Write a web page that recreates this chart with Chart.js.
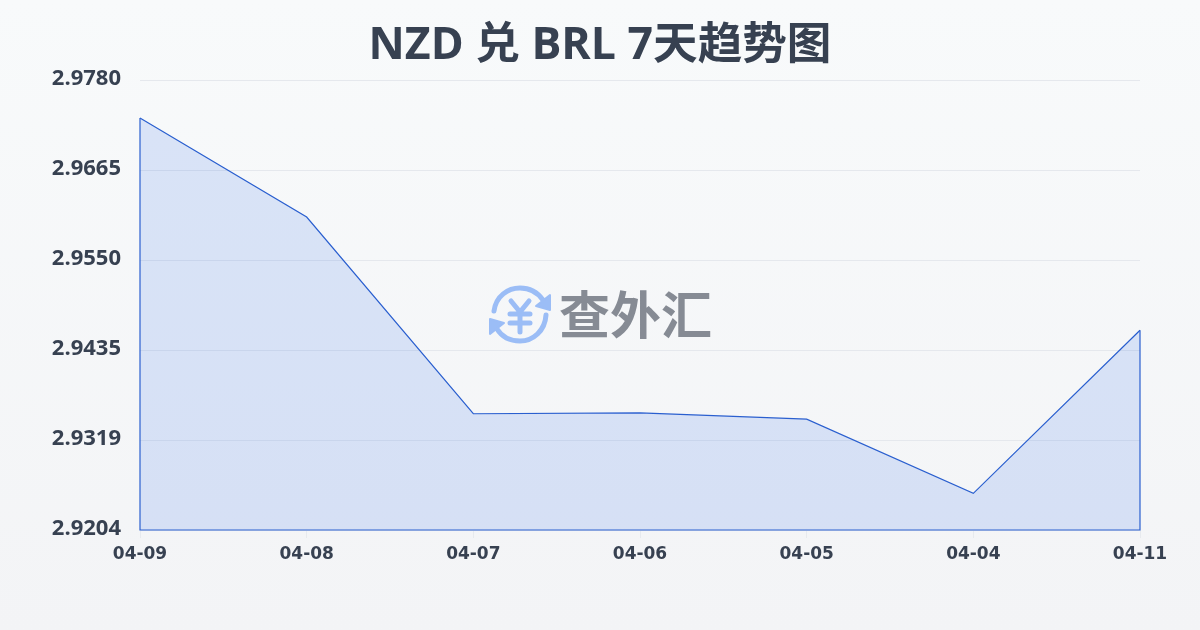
<!DOCTYPE html>
<html>
<head>
<meta charset="utf-8">
<script src="https://cdn.jsdelivr.net/npm/chart.js@4"></script>
<style>
html, body { margin: 0; padding: 0; width: 1200px; height: 630px; overflow: hidden; }
body { background: linear-gradient(180deg, #f8fafb 0%, #f3f4f6 100%); position: relative; }
#wrap { position: absolute; left: 0; top: 0; width: 1200px; height: 630px; }
#mark { position: absolute; left: 488px; top: 284px; }
#markText { position: absolute; left: 559px; top: 276px; font: 700 51px/72px "Noto Sans CJK SC", sans-serif; color: #868b94; white-space: nowrap; }
</style>
</head>
<body>
<div id="wrap"><canvas id="rateChart" width="1200" height="630"></canvas></div>
<svg id="mark" width="64" height="62" viewBox="0 0 64 62" fill="none" stroke="#9bbdf6" stroke-width="5" stroke-linecap="round" stroke-linejoin="round">
  <path d="M6 27 C8 12 20 4 32 4 C42 4 50 9 55 16"/>
  <path d="M58 31 C57 47 45 57 32 57 C22 57 14 53 9 45"/>
  <path d="M62 11 L62 26 L48 22 Z" fill="#9bbdf6" stroke-width="2"/>
  <path d="M2 50 L2 35 L16 39 Z" fill="#9bbdf6" stroke-width="2"/>
  <path d="M23 17 L32 28 L41 17 M22 30 L42 30 M22 39 L42 39 M32 28 L32 48"/>
</svg>
<div id="markText">查外汇</div>
<script>
const dates = ['04-09', '04-08', '04-07', '04-06', '04-05', '04-04', '04-11'];
const rates = [2.9732, 2.9605, 2.9353, 2.9354, 2.9346, 2.9251, 2.9460];
const yTickLabels = ['2.9204', '2.9319', '2.9435', '2.9550', '2.9665', '2.9780'];
const yMin = 2.9204;
const yMax = 2.9780;

const textColor = '#374151';
const lineColor = '#2a5fcf';
const titleFont = '"Open Sans", "Noto Sans CJK SC", sans-serif';

// 面积图的左右两边和底边也有描边
const outlinePlugin = {
    id: 'outline',
    afterDatasetsDraw(chart) {
        const ctx = chart.ctx;
        const x = chart.scales.x;
        const y = chart.scales.y;
        const last = dates.length - 1;
        ctx.save();
        ctx.strokeStyle = lineColor;
        ctx.lineWidth = 1.2;
        ctx.beginPath();
        ctx.moveTo(x.getPixelForValue(0), y.getPixelForValue(rates[0]));
        ctx.lineTo(x.getPixelForValue(0), y.getPixelForValue(yMin));
        ctx.lineTo(x.getPixelForValue(last), y.getPixelForValue(yMin));
        ctx.lineTo(x.getPixelForValue(last), y.getPixelForValue(rates[last]));
        ctx.stroke();
        ctx.restore();
    }
};

new Chart(document.getElementById('rateChart').getContext('2d'), {
    type: 'line',
    data: {
        labels: dates,
        datasets: [{
            data: rates,
            borderColor: lineColor,
            borderWidth: 1.2,
            backgroundColor: 'rgba(37, 99, 235, 0.14)',
            fill: 'start',
            tension: 0,
            pointRadius: 0
        }]
    },
    plugins: [outlinePlugin],
    options: {
        responsive: false,
        animation: false,
        plugins: {
            legend: { display: false },
            tooltip: { enabled: false },
            title: {
                display: true,
                text: 'NZD 兑 BRL 7天趋势图',
                color: textColor,
                font: { family: titleFont, size: 44.6, weight: '700' },
                padding: { top: 20, bottom: 7 }
            }
        },
        scales: {
            x: {
                offset: false,
                grid: { drawOnChartArea: false, drawTicks: true, color: '#e7eaee', tickLength: 8 },
                border: { display: false },
                ticks: {
                    color: textColor,
                    maxRotation: 0,
                    autoSkip: false,
                    padding: 6,
                    font: { family: '"DejaVu Sans", sans-serif', size: 17, weight: '700' }
                },
                afterFit(scale) { scale.height = 100; }
            },
            y: {
                min: yMin,
                max: yMax,
                grid: { drawTicks: false, color: '#e5e8ed', lineWidth: 1 },
                border: { display: false },
                ticks: {
                    count: yTickLabels.length,
                    color: textColor,
                    padding: 19,
                    // 空的第二行加很小的行高，让标签略高于网格线
                    font: { family: titleFont, size: 22, weight: '700', lineHeight: 0.15 },
                    callback: (value, index) => [yTickLabels[index], '']
                },
                afterFit(scale) { scale.width = 140; }
            },
            // 右侧占位轴，让标题仍然在整张图的中间
            rightGap: {
                position: 'right',
                grid: { display: false },
                border: { display: false },
                ticks: { display: false },
                afterFit(scale) { scale.width = 60; }
            }
        }
    }
});
</script>
</body>
</html>
